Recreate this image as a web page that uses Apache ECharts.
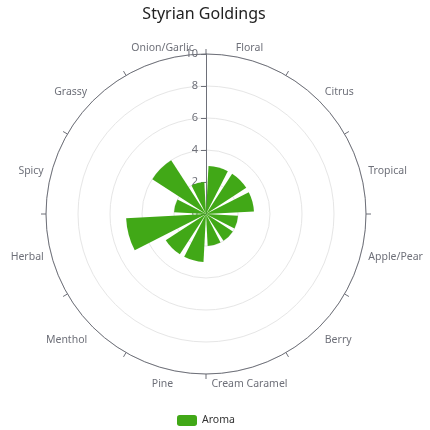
<!DOCTYPE html>
<html>
<head>
<meta charset="utf-8">
<script src="https://cdn.jsdelivr.net/npm/echarts@6/dist/echarts.min.js"></script>
<style>
html,body{margin:0;padding:0;background:#fff;}
#main{width:430px;height:430px;}
</style>
</head>
<body>
<div id="main"></div>
<script>
const chartTitle = 'Styrian Goldings';
const categories = ['Floral','Citrus','Tropical','Apple/Pear','Berry','Cream Caramel','Pine','Menthol','Herbal','Spicy','Grassy','Onion/Garlic'];
const seriesName = 'Aroma';
const aromaValues = [3, 3, 3, 2, 2, 2, 3, 3, 5, 2, 4, 2];
const radiusMax = 10;
const radiusInterval = 2;

const FONT = '"Noto Sans", sans-serif';
const chart = echarts.init(document.getElementById('main'), null, {renderer: 'canvas'});
chart.setOption({
  animation: false,
  backgroundColor: '#fff',
  title: {
    text: chartTitle,
    left: 199,
    top: 1,
    textAlign: 'center',
    textStyle: {fontFamily: FONT, fontSize: 16, fontWeight: 'normal', color: '#222'}
  },
  legend: {
    data: [seriesName],
    left: 172,
    bottom: -1,
    itemWidth: 20,
    itemHeight: 11,
    itemGap: 8,
    textStyle: {fontFamily: FONT, fontSize: 10.5, color: '#333'}
  },
  polar: {
    center: [206, 214],
    radius: 160
  },
  angleAxis: {
    type: 'category',
    data: categories,
    startAngle: 90,
    clockwise: true,
    axisLine: {lineStyle: {color: '#6E7079'}},
    axisTick: {show: true, length: 5, lineStyle: {color: '#6E7079'}},
    axisLabel: {fontFamily: FONT, fontSize: 10.5, lineHeight: 6.5, color: '#6E7079', margin: 8, padding: [4, 0, 0, 0]},
    splitLine: {show: false}
  },
  radiusAxis: {
    type: 'value',
    min: 0,
    max: radiusMax,
    interval: radiusInterval,
    axisLine: {show: true, lineStyle: {color: '#6E7079'}},
    axisTick: {show: true, lineStyle: {color: '#6E7079'}},
    axisLabel: {fontFamily: FONT, fontSize: 11, color: '#6E7079'},
    splitLine: {show: true, lineStyle: {color: '#e6e6e6'}}
  },
  series: [{
    name: seriesName,
    type: 'bar',
    coordinateSystem: 'polar',
    data: aromaValues,
    barCategoryGap: '20%',
    itemStyle: {color: '#41a817'}
  }]
});
</script>
</body>
</html>
